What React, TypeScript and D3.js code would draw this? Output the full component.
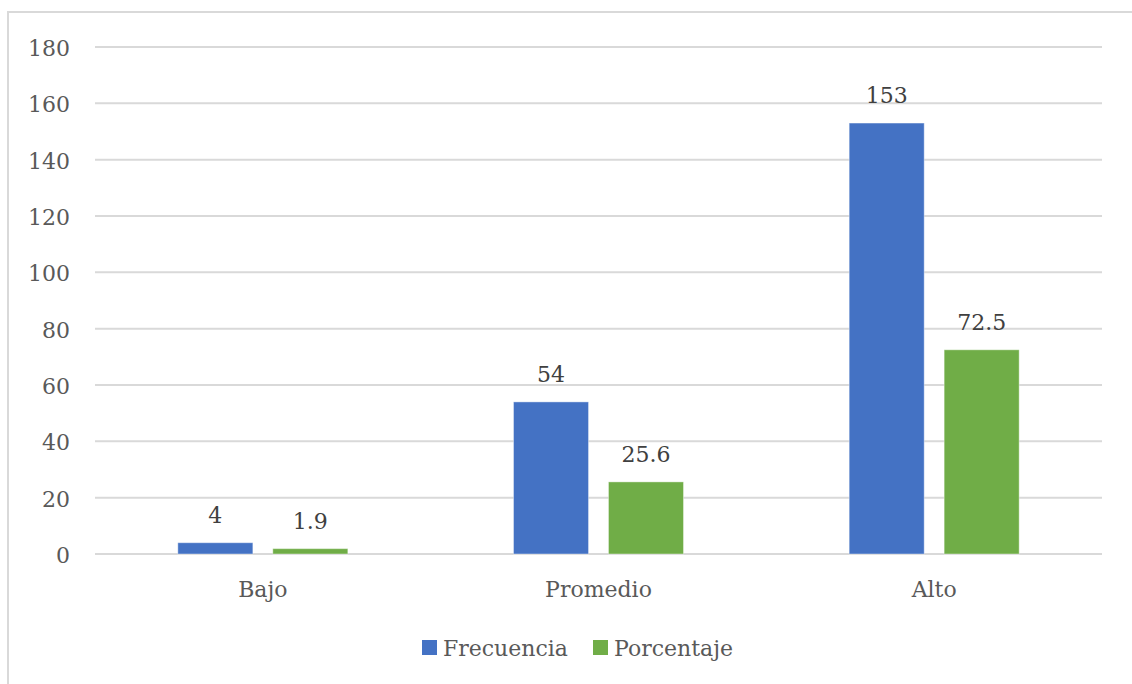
import { useMemo } from "react"
import * as d3 from "d3"

const categories = ["Bajo", "Promedio", "Alto"]
const seriesNames = ["Frecuencia", "Porcentaje"]
const frecuencia = [4, 54, 153]
const porcentaje = [1.9, 25.6, 72.5]
const yTicks = [0, 20, 40, 60, 80, 100, 120, 140, 160, 180]
const colors = ["#4472C4", "#70AD47"]

const W = 1132
const H = 684
const left = 95
const right = 1102
const top = 47
const bottom = 554
const txt = { fontFamily: '"DejaVu Serif", serif', fontSize: "22px", letterSpacing: "0px" }

const App = () => {
  const x0 = useMemo(() => d3.scaleBand().domain(categories).range([left, right]).padding(0), [])
  const x1 = useMemo(() => d3.scaleBand().domain(seriesNames).range([0, 170]).paddingInner(0.21), [])
  const y = useMemo(() => d3.scaleLinear().domain([0, 180]).range([bottom, top]), [])

  const rows = categories.map((c, i) => ({ c, vals: [frecuencia[i], porcentaje[i]] }))
  const groupOff = (x0.bandwidth() - 170) / 2

  return (
    <svg width={W} height={H} style={{ position: "absolute", left: 0, top: 0, background: "#fff" }}>
      <rect x={8} y={12} width={W} height={H} fill="#fff" stroke="#d9d9d9" strokeWidth={2} />
      {yTicks.map(t => (
        <g key={t}>
          <line x1={left} x2={right} y1={y(t)} y2={y(t)} stroke="#d9d9d9" strokeWidth={2} />
          <text x={70} y={y(t) + 9} textAnchor="end" style={txt} fill="#595959">
            {t}
          </text>
        </g>
      ))}
      {rows.map(r => (
        <g key={r.c} transform={`translate(${(x0(r.c) ?? 0) + groupOff},0)`}>
          {r.vals.map((v, j) => {
            const bx = x1(seriesNames[j]) ?? 0
            return (
              <g key={j}>
                <rect x={bx} y={y(v)} width={x1.bandwidth()} height={bottom - y(v)} fill={colors[j]} stroke="#fff" strokeOpacity={0.4} strokeWidth={1} />
                <text x={bx + x1.bandwidth() / 2} y={y(v) - 20} textAnchor="middle" style={txt} fill="#404040">
                  {v}
                </text>
              </g>
            )
          })}
        </g>
      ))}
      {categories.map(c => (
        <text key={c} x={(x0(c) ?? 0) + x0.bandwidth() / 2} y={597} textAnchor="middle" style={txt} fill="#595959">
          {c}
        </text>
      ))}
      {seriesNames.map((s, i) => {
        const lx = i === 0 ? 422 : 593
        return (
          <g key={s}>
            <rect x={lx} y={640} width={15} height={15} fill={colors[i]} />
            <text x={lx + 21} y={656} style={txt} fill="#595959">
              {s}
            </text>
          </g>
        )
      })}
    </svg>
  )
}

export default App
